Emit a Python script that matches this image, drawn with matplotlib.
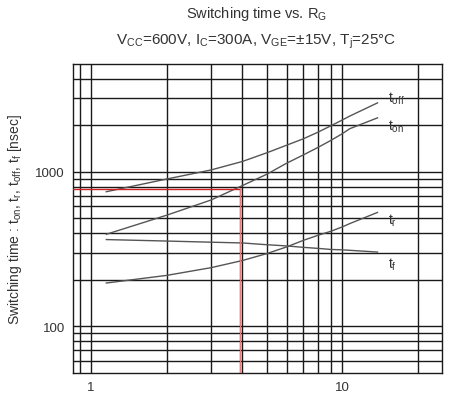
import matplotlib
matplotlib.use("Agg")
import matplotlib.pyplot as plt
from matplotlib.ticker import FixedLocator, NullFormatter, FixedFormatter

plt.rcParams['font.family'] = ['Liberation Sans', 'DejaVu Sans']
plt.rcParams['mathtext.fontset'] = 'custom'
plt.rcParams['mathtext.rm'] = 'Liberation Sans'
plt.rcParams['mathtext.it'] = 'Liberation Sans'

# Data
rg = [1.15, 2, 3, 4, 5, 6, 7, 8, 9, 10, 10.7, 13.8]
t_off = [745, 900, 1030, 1169, 1330, 1490, 1640, 1810, 1990, 2170, 2300, 2800]
t_on = [395, 525, 658, 816, 966, 1139, 1290, 1442, 1600, 1770, 1905, 2240]
t_r = [191, 214, 240, 267, 296, 327, 361, 389, 413, 441, 463, 547]
t_f = [365, 357, 351, 347, 338, 332, 325, 320, 315, 313, 311, 303]

marker_rg = 3.9
marker_t = 775

x_major = [1, 10]
x_minor = [0.9, 2, 3, 4, 5, 6, 7, 8, 9, 20]
y_major = [100, 1000]
y_minor = [60, 70, 80, 90, 200, 300, 400, 500, 600, 700, 800, 900, 2000, 3000, 4000]

fig = plt.figure(figsize=(4.5, 4.1), dpi=100)
ax = fig.add_axes([0.163, 0.088, 0.820, 0.7535])
ax.set_xscale("log")
ax.set_yscale("log")
ax.set_xlim(0.85, 25)
ax.set_ylim(50, 5000)

ax.xaxis.set_major_locator(FixedLocator(x_major))
ax.xaxis.set_major_formatter(FixedFormatter([str(v) for v in x_major]))
ax.xaxis.set_minor_locator(FixedLocator(x_minor))
ax.xaxis.set_minor_formatter(NullFormatter())
ax.yaxis.set_major_locator(FixedLocator(y_major))
ax.yaxis.set_major_formatter(FixedFormatter([str(v) for v in y_major]))
ax.yaxis.set_minor_locator(FixedLocator(y_minor))
ax.yaxis.set_minor_formatter(NullFormatter())
ax.grid(True, which="both", color="#1a1a1a", lw=1.0)
ax.tick_params(which="both", length=0, labelsize=9.5, colors="#333333", pad=6)
for s in ax.spines.values():
    s.set_color("#1a1a1a")
    s.set_linewidth(1.0)

lc = "#555555"
for ys in (t_off, t_on, t_r, t_f):
    ax.plot(rg, ys, color=lc, lw=1.0, zorder=3)

ax.plot([0.85, marker_rg], [marker_t, marker_t], color="#d02020", lw=1.0, zorder=4)
ax.plot([marker_rg, marker_rg], [50, marker_t], color="#d02020", lw=1.0, zorder=4)
ax.plot([marker_rg * 1.008, marker_rg * 1.008], [50, marker_t], color="#e08080", lw=0.8, zorder=4)

lab_kw = dict(fontsize=10, color="#333333", ha="left", va="center")
ax.text(15.2, 3000, r"t$_{\mathrm{off}}$", **lab_kw)
ax.text(15.2, 1980, r"t$_{\mathrm{on}}$", **lab_kw)
ax.text(15.2, 490, r"t$_{\mathrm{r}}$", **lab_kw)
ax.text(15.2, 255, r"t$_{\mathrm{f}}$", **lab_kw)

ax.set_ylabel(r"Switching time : t$_{\mathrm{on}}$, t$_{\mathrm{r}}$, t$_{\mathrm{off}}$, t$_{\mathrm{f}}$ [nsec]",
              fontsize=10, color="#333333", labelpad=8)

fig.text(0.57, 0.967, r"Switching time vs. R$_{\mathrm{G}}$", ha="center", va="center", fontsize=10.5, color="#333333")
fig.text(0.57, 0.898, r"V$_{\mathrm{CC}}$=600V, I$_{\mathrm{C}}$=300A, V$_{\mathrm{GE}}$=±15V, T$_{\mathrm{j}}$=25°C",
         ha="center", va="center", fontsize=11, color="#333333")

fig.savefig("out.png", dpi=100, facecolor="white")
